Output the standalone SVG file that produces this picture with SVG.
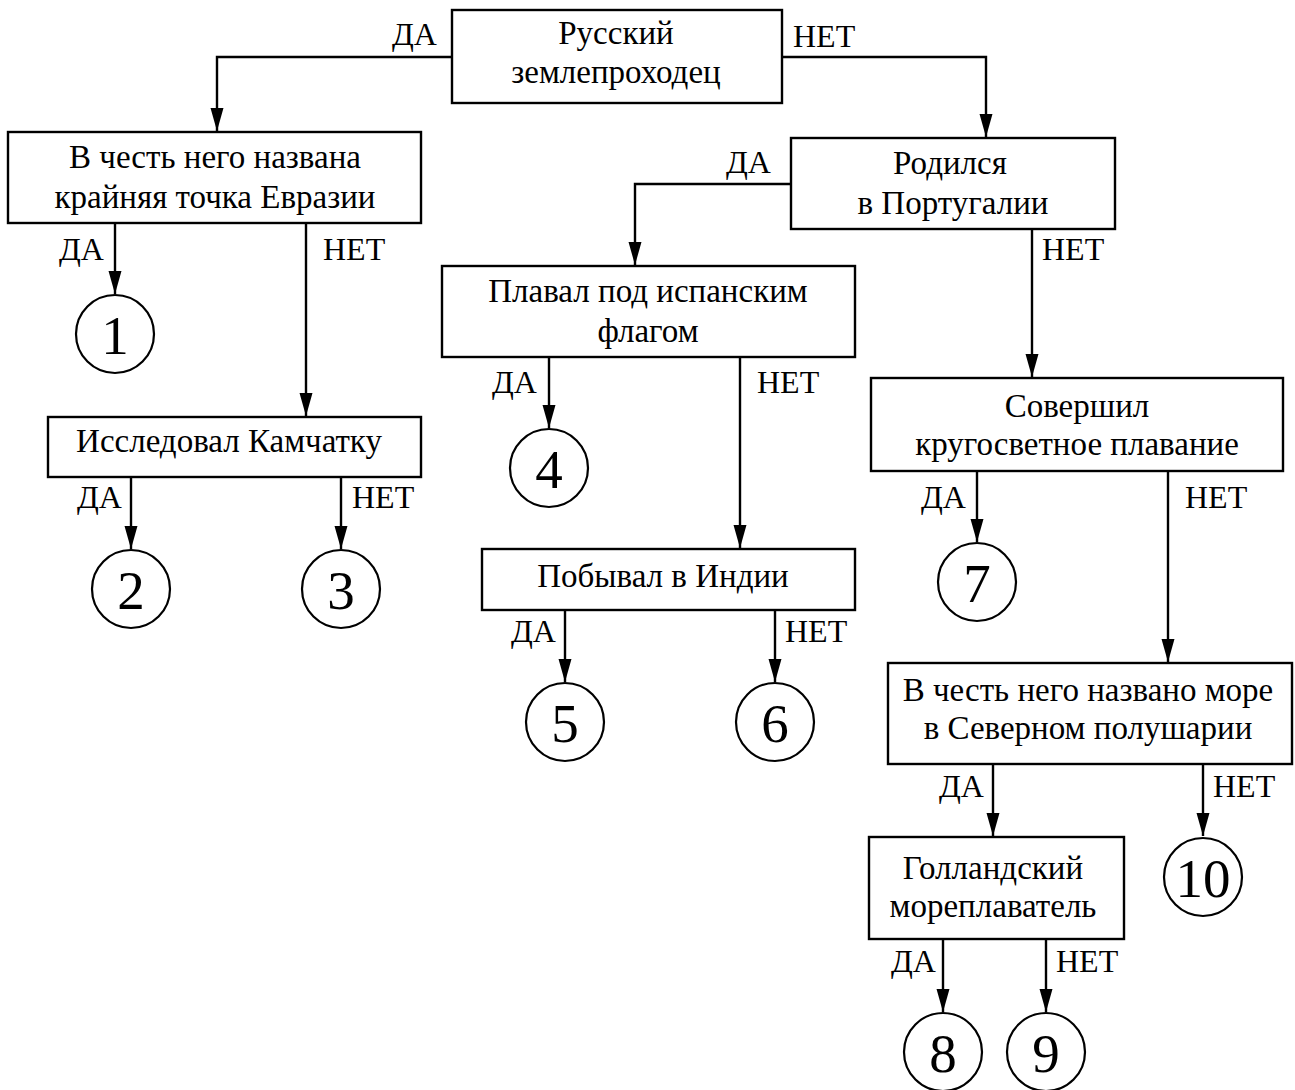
<svg xmlns="http://www.w3.org/2000/svg" width="1295" height="1090" viewBox="0 0 1295 1090">
<style>
.box{fill:#fff;stroke:#000;stroke-width:2.4}
.t{font-family:"Liberation Serif","Times New Roman",serif;font-size:33px;fill:#000;text-anchor:middle}
.l{font-family:"Liberation Serif","Times New Roman",serif;font-size:32px;fill:#000}
.c{fill:#fff;stroke:#000;stroke-width:2.2}
.n{font-family:"Liberation Serif","Times New Roman",serif;font-size:55px;fill:#000;text-anchor:middle}
.e{fill:none;stroke:#000;stroke-width:2.4}
</style>
<defs>
<marker id="arr" markerUnits="userSpaceOnUse" markerWidth="25" markerHeight="14" refX="23" refY="6.5" orient="auto">
<path d="M0,0 L23,6.5 L0,13 z" fill="#000"/>
</marker>
</defs>
<rect width="1295" height="1090" fill="#fff"/>
<g id="connectors">
<path class="e" d="M452,57 H217 V131" marker-end="url(#arr)"/>
<path class="e" d="M782,57 H986 V137" marker-end="url(#arr)"/>
<path class="e" d="M115,223 V294" marker-end="url(#arr)"/>
<path class="e" d="M306,223 V416" marker-end="url(#arr)"/>
<path class="e" d="M131,477 V549" marker-end="url(#arr)"/>
<path class="e" d="M341,477 V549" marker-end="url(#arr)"/>
<path class="e" d="M791,184 H635 V265" marker-end="url(#arr)"/>
<path class="e" d="M1032,229 V377" marker-end="url(#arr)"/>
<path class="e" d="M549,357 V428" marker-end="url(#arr)"/>
<path class="e" d="M740,357 V548" marker-end="url(#arr)"/>
<path class="e" d="M565,610 V682" marker-end="url(#arr)"/>
<path class="e" d="M775,610 V682" marker-end="url(#arr)"/>
<path class="e" d="M977,471 V542" marker-end="url(#arr)"/>
<path class="e" d="M1168,471 V662" marker-end="url(#arr)"/>
<path class="e" d="M993,764 V836" marker-end="url(#arr)"/>
<path class="e" d="M1203,764 V836" marker-end="url(#arr)"/>
<path class="e" d="M943,939 V1012" marker-end="url(#arr)"/>
<path class="e" d="M1046,939 V1012" marker-end="url(#arr)"/>
<text class="l" x="392" y="45">ДА</text>
<text class="l" x="793" y="47">НЕТ</text>
<text class="l" x="59" y="260">ДА</text>
<text class="l" x="323" y="260">НЕТ</text>
<text class="l" x="77" y="508">ДА</text>
<text class="l" x="352" y="508">НЕТ</text>
<text class="l" x="726" y="173">ДА</text>
<text class="l" x="1042" y="260">НЕТ</text>
<text class="l" x="492" y="393">ДА</text>
<text class="l" x="757" y="393">НЕТ</text>
<text class="l" x="511" y="642">ДА</text>
<text class="l" x="785" y="642">НЕТ</text>
<text class="l" x="921" y="508">ДА</text>
<text class="l" x="1185" y="508">НЕТ</text>
<text class="l" x="939" y="797">ДА</text>
<text class="l" x="1213" y="797">НЕТ</text>
<text class="l" x="891" y="972">ДА</text>
<text class="l" x="1056" y="972">НЕТ</text>
</g>
<g id="root">
<rect class="box" x="452" y="10" width="330" height="93"/>
<text class="t" x="616" y="44">Русский</text>
<text class="t" x="616" y="83">землепроходец</text>
</g>
<g id="eurasia">
<rect class="box" x="8" y="132" width="413" height="91"/>
<text class="t" x="215" y="168">В честь него названа</text>
<text class="t" x="215" y="208">крайняя точка Евразии</text>
</g>
<g id="portugal">
<rect class="box" x="791" y="138" width="324" height="91"/>
<text class="t" x="950" y="174">Родился</text>
<text class="t" x="953" y="214">в Португалии</text>
</g>
<g id="spain">
<rect class="box" x="442" y="266" width="413" height="91"/>
<text class="t" x="648" y="302">Плавал под испанским</text>
<text class="t" x="648" y="342">флагом</text>
</g>
<g id="kamchatka">
<rect class="box" x="48" y="417" width="373" height="60"/>
<text class="t" x="229" y="452">Исследовал Камчатку</text>
</g>
<g id="circum">
<rect class="box" x="871" y="378" width="412" height="93"/>
<text class="t" x="1077" y="417">Совершил</text>
<text class="t" x="1077" y="455">кругосветное плавание</text>
</g>
<g id="india">
<rect class="box" x="482" y="549" width="373" height="61"/>
<text class="t" x="663" y="587">Побывал в Индии</text>
</g>
<g id="sea">
<rect class="box" x="888" y="663" width="404" height="101"/>
<text class="t" x="1088" y="701">В честь него названо море</text>
<text class="t" x="1088" y="739">в Северном полушарии</text>
</g>
<g id="dutch">
<rect class="box" x="869" y="837" width="255" height="102"/>
<text class="t" x="993" y="879">Голландский</text>
<text class="t" x="993" y="917">мореплаватель</text>
</g>
<g id="n1"><circle class="c" cx="115" cy="334" r="39"/><text class="n" x="115" y="354">1</text></g>
<g id="n2"><circle class="c" cx="131" cy="589" r="39"/><text class="n" x="131" y="609">2</text></g>
<g id="n3"><circle class="c" cx="341" cy="589" r="39"/><text class="n" x="341" y="609">3</text></g>
<g id="n4"><circle class="c" cx="549" cy="468" r="39"/><text class="n" x="549" y="488">4</text></g>
<g id="n5"><circle class="c" cx="565" cy="722" r="39"/><text class="n" x="565" y="742">5</text></g>
<g id="n6"><circle class="c" cx="775" cy="722" r="39"/><text class="n" x="775" y="742">6</text></g>
<g id="n7"><circle class="c" cx="977" cy="582" r="39"/><text class="n" x="977" y="602">7</text></g>
<g id="n8"><circle class="c" cx="943" cy="1052" r="39"/><text class="n" x="943" y="1072">8</text></g>
<g id="n9"><circle class="c" cx="1046" cy="1052" r="39"/><text class="n" x="1046" y="1072">9</text></g>
<g id="n10"><circle class="c" cx="1203" cy="877" r="39"/><text class="n" x="1203" y="897">10</text></g>
</svg>
